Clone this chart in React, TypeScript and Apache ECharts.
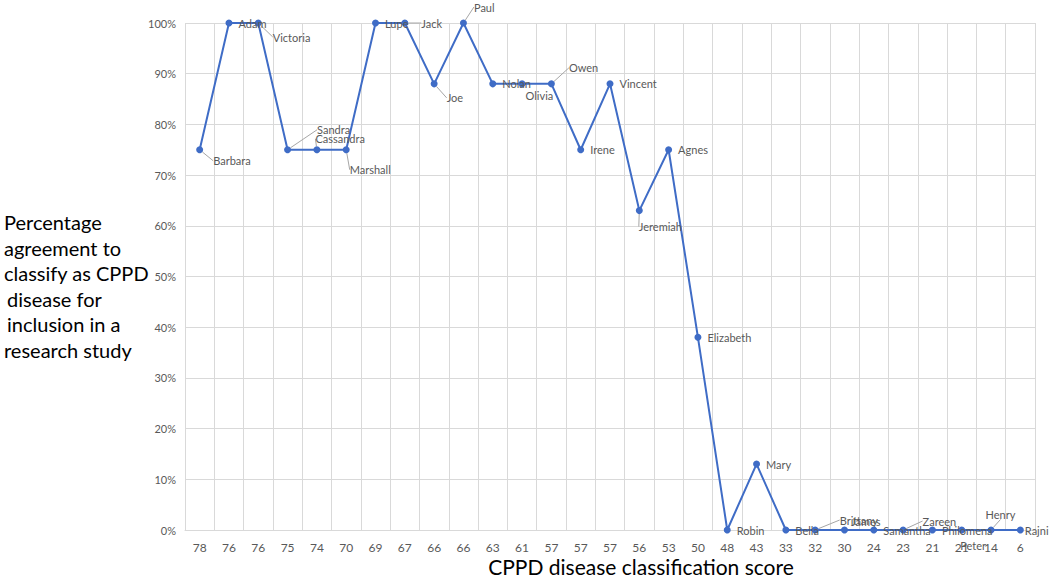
import React, { useEffect, useRef } from "react";
import * as echarts from "echarts";

const names = ["Barbara","Adam","Victoria","Sandra","Cassandra","Marshall","Lupe","Jack","Joe","Paul","Nolan","Olivia","Owen","Irene","Vincent","Jeremiah","Agnes","Elizabeth","Robin","Mary","Bella","Brittany","James","Samantha","Zareen","Philomena","Peter","Henry","Rajni"];
const scores = ["78","76","76","75","74","70","69","67","66","66","63","61","57","57","57","56","53","50","48","43","33","32","30","24","23","21","21","14","6"];
const agreement = [0.75,1,1,0.75,0.75,0.75,1,1,0.88,1,0.88,0.88,0.88,0.75,0.88,0.63,0.75,0.38,0,0.13,0,0,0,0,0,0,0,0,0];
const yTicks = [0, 0.1, 0.2, 0.3, 0.4, 0.5, 0.6, 0.7, 0.8, 0.9, 1];
const yTitleLines = ["Percentage", "agreement to", "classify as CPPD", "disease for", "inclusion in a", "research study"];
const xTitle = "CPPD disease classification score";

// label nudges [dx, dy, leader]
const labelNudge: [number, number, boolean][] = [
  [4, 11, true],   // Barbara
  [0, 0, false],   // Adam
  [5, 14, true],   // Victoria
  [20, -20, true], // Sandra
  [-11, -11, true],// Cassandra
  [-6, 20, true],  // Marshall
  [0, 0, false],   // Lupe
  [7, 0, true],    // Jack
  [3, 14, true],   // Joe
  [1, -16, true],  // Paul
  [0, 0, false],   // Nolan
  [-6, 12, false], // Olivia
  [8, -16, true],  // Owen
  [0, 0, false],   // Irene
  [0, 0, false],   // Vincent
  [-10, 16, true], // Jeremiah
  [0, 0, false],   // Agnes
  [0, 0, false],   // Elizabeth
  [0, 0, false],   // Robin
  [0, 0, false],   // Mary
  [0, 0, false],   // Bella
  [15, -10, true], // Brittany
  [-3, -9, false], // James
  [0, 0, false],   // Samantha
  [10, -9, true],  // Zareen
  [0, 0, false],   // Philomena
  [-11, 15, false],// Peter
  [-15, -16, true],// Henry
  [-5, 0, false],  // Rajni
];

const FONT = "Lato, 'Noto Sans', sans-serif";

export default function App() {
  const ref = useRef<HTMLDivElement>(null);
  useEffect(() => {
    const chart = echarts.init(ref.current!, null, { renderer: "svg" });
    const data = agreement.map((v, i) => ({
      value: v,
      name: names[i],
      labelLine: { show: labelNudge[i][2] },
    }));
    chart.setOption({
      animation: false,
      backgroundColor: "#ffffff",
      grid: { left: 185, right: 15, top: 23, bottom: 47 },
      xAxis: {
        type: "category",
        data: scores,
        boundaryGap: true,
        axisLine: { show: true, lineStyle: { color: "#d9d9d9", width: 1 } },
        axisTick: { show: false },
        splitLine: { show: true, interval: 0, lineStyle: { color: "#d9d9d9", width: 1 } },
        axisLabel: { interval: 0, color: "#595959", fontSize: 12, fontFamily: FONT, margin: 11 },
      },
      yAxis: {
        type: "value",
        min: 0,
        max: 1,
        interval: 0.1,
        axisLine: { show: false },
        axisTick: { show: false },
        splitLine: { show: true, lineStyle: { color: "#d9d9d9", width: 1 } },
        axisLabel: {
          color: "#595959",
          fontSize: 11,
          fontFamily: FONT,
          margin: 9,
          formatter: (v: number) => (yTicks.some((t) => Math.abs(t - v) < 1e-9) ? Math.round(v * 100) + "%" : ""),
        },
      },
      series: [
        {
          type: "line",
          data,
          symbol: "circle",
          symbolSize: 7,
          itemStyle: { color: "#3f6cc6" },
          lineStyle: { color: "#3f6cc6", width: 2 },
          label: {
            show: true,
            position: "right",
            distance: 6,
            color: "#595959",
            fontSize: 11,
            fontFamily: FONT,
            formatter: (p: any) => p.name,
          },
          labelLine: { show: false, lineStyle: { color: "#a6a6a6", width: 1 } },
          labelLayout: (p: any) => {
            const n = labelNudge[p.dataIndex];
            return { dx: n[0], dy: n[1] };
          },
        },
      ],
      graphic: [
        ...yTitleLines.map((t, i) => ({
          type: "text",
          x: i === 3 || i === 4 ? 7 : 4,
          y: 222 + i * 25.6,
          style: { text: t, fill: "#000000", fontSize: 20, fontFamily: FONT, textVerticalAlign: "middle" },
        })),
        {
          type: "text",
          x: 641,
          y: 566,
          style: { text: xTitle, fill: "#000000", fontSize: 21, fontFamily: FONT, textAlign: "center", textVerticalAlign: "middle" },
        },
      ],
    });
    return () => chart.dispose();
  }, []);
  return <div ref={ref} style={{ width: 1050, height: 577, position: "absolute", left: 0, top: 0 }} />;
}
